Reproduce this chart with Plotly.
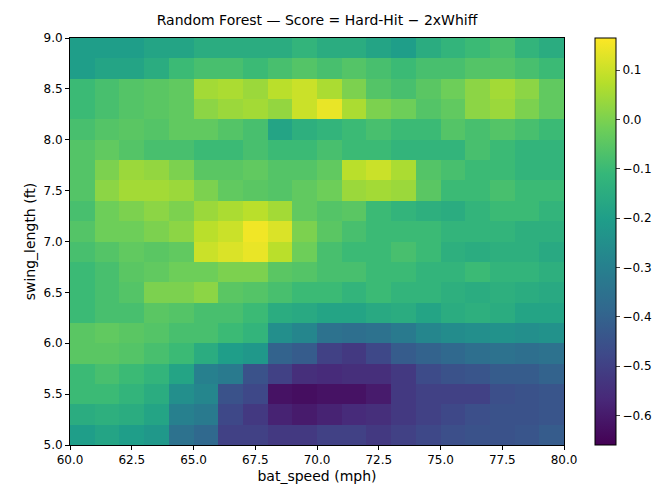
import plotly.graph_objects as go

bat_speed = [60.5 + i for i in range(20)]
swing_length = [5.1 + 0.2 * j for j in range(20)]

# rows from y=5.1 (bottom) to y=8.9 (top), 20 columns from x=60.5 to 79.5
score = [
 [-0.20,-0.18,-0.20,-0.22,-0.35,-0.38,-0.50,-0.50,-0.52,-0.52,-0.50,-0.50,-0.52,-0.50,-0.48,-0.46,-0.45,-0.45,-0.44,-0.42],
 [-0.15,-0.14,-0.15,-0.18,-0.30,-0.32,-0.48,-0.52,-0.58,-0.60,-0.58,-0.56,-0.55,-0.52,-0.50,-0.48,-0.46,-0.45,-0.45,-0.44],
 [-0.10,-0.10,-0.12,-0.15,-0.25,-0.28,-0.45,-0.48,-0.62,-0.63,-0.62,-0.62,-0.60,-0.52,-0.50,-0.50,-0.50,-0.46,-0.45,-0.44],
 [-0.10,-0.08,-0.10,-0.12,-0.18,-0.30,-0.32,-0.45,-0.50,-0.55,-0.56,-0.55,-0.55,-0.52,-0.47,-0.45,-0.44,-0.42,-0.42,-0.40],
 [-0.05,-0.05,-0.06,-0.08,-0.10,-0.15,-0.20,-0.22,-0.40,-0.42,-0.50,-0.52,-0.48,-0.42,-0.40,-0.38,-0.36,-0.35,-0.36,-0.35],
 [-0.05,-0.04,-0.05,-0.06,-0.08,-0.08,-0.10,-0.12,-0.25,-0.28,-0.35,-0.36,-0.35,-0.32,-0.28,-0.26,-0.25,-0.24,-0.25,-0.24],
 [-0.10,-0.08,-0.08,-0.05,-0.06,-0.08,-0.08,-0.10,-0.15,-0.16,-0.18,-0.18,-0.16,-0.15,-0.18,-0.15,-0.14,-0.15,-0.18,-0.18],
 [-0.10,-0.08,-0.06,0.00,0.00,0.02,-0.05,-0.06,-0.08,-0.10,-0.10,-0.12,-0.10,-0.12,-0.12,-0.14,-0.15,-0.14,-0.15,-0.16],
 [-0.10,-0.08,-0.05,-0.04,-0.02,-0.02,0.00,0.00,-0.05,-0.06,-0.08,-0.08,-0.10,-0.10,-0.12,-0.12,-0.10,-0.12,-0.12,-0.14],
 [-0.08,-0.06,-0.04,-0.05,-0.04,0.10,0.12,0.14,0.08,-0.02,-0.08,-0.10,-0.10,-0.08,-0.10,-0.14,-0.15,-0.14,-0.14,-0.16],
 [-0.06,-0.02,-0.02,0.00,0.02,0.08,0.10,0.15,0.12,0.00,-0.05,-0.08,-0.10,-0.10,-0.10,-0.12,-0.12,-0.12,-0.14,-0.14],
 [-0.08,-0.02,0.00,0.02,0.00,0.04,0.06,0.08,0.05,-0.04,-0.06,-0.05,-0.10,-0.12,-0.14,-0.15,-0.12,-0.10,-0.10,-0.12],
 [-0.06,0.02,0.05,0.05,0.04,0.00,-0.04,-0.05,-0.06,-0.04,-0.02,0.04,0.05,0.04,-0.05,-0.10,-0.10,-0.08,-0.10,-0.10],
 [-0.06,0.00,0.04,0.03,0.00,-0.05,-0.05,-0.04,-0.06,-0.06,-0.04,0.08,0.10,0.06,-0.06,-0.08,-0.10,-0.10,-0.12,-0.12],
 [-0.06,-0.04,-0.06,-0.08,-0.08,-0.10,-0.10,-0.08,-0.10,-0.10,-0.08,-0.10,-0.10,-0.12,-0.12,-0.12,-0.08,-0.10,-0.12,-0.12],
 [-0.08,-0.06,-0.05,-0.06,-0.04,-0.04,-0.06,-0.08,-0.18,-0.14,-0.12,-0.10,-0.08,-0.10,-0.10,-0.06,-0.08,-0.06,-0.08,-0.10],
 [-0.10,-0.08,-0.06,-0.05,-0.04,0.02,0.04,0.05,0.03,0.10,0.14,0.06,0.00,-0.02,-0.06,-0.04,0.02,0.04,0.00,-0.04],
 [-0.10,-0.08,-0.06,-0.05,-0.04,0.05,0.06,0.04,0.08,0.10,0.06,0.00,-0.06,-0.08,-0.05,-0.02,0.02,0.05,0.02,-0.04],
 [-0.20,-0.18,-0.18,-0.15,-0.10,-0.08,-0.08,-0.10,-0.08,-0.06,-0.08,-0.06,-0.08,-0.10,-0.08,-0.08,-0.06,-0.06,-0.08,-0.10],
 [-0.20,-0.20,-0.20,-0.18,-0.18,-0.15,-0.15,-0.15,-0.15,-0.12,-0.15,-0.15,-0.18,-0.20,-0.15,-0.12,-0.10,-0.08,-0.12,-0.15],
]

fig = go.Figure(go.Heatmap(
    x=bat_speed, y=swing_length, z=score, colorscale="Viridis",
    zmin=-0.66, zmax=0.165,
    colorbar=dict(x=1.063, xanchor="left", thickness=21, len=1, y=0.5, yanchor="middle",
                  outlinewidth=1, outlinecolor="black", ticks="outside", xpad=0, ypad=0,
                  tickfont=dict(size=12), ticklen=4,
                  tickvals=[0.1, 0.0, -0.1, -0.2, -0.3, -0.4, -0.5, -0.6],
                  ticktext=["0.1", "0.0", "−0.1", "−0.2", "−0.3", "−0.4", "−0.5", "−0.6"]),
))
ax = dict(showgrid=False, zeroline=False, ticks="outside", showline=True, linecolor="black",
          mirror=True, tickcolor="black", ticklen=4, tickfont=dict(size=12))
fig.update_layout(
    width=661, height=490, margin=dict(l=62, r=105, t=30, b=53, autoexpand=False),
    plot_bgcolor="white", paper_bgcolor="white",
    font=dict(family="DejaVu Sans", size=12, color="black"),
    title=dict(text="Random Forest — Score = Hard-Hit − 2xWhiff", x=0.5, xref="paper",
               y=1, yref="container", yanchor="top", pad=dict(t=7), font=dict(size=14)),
    xaxis=dict(range=[60, 80], tickvals=[60, 62.5, 65, 67.5, 70, 72.5, 75, 77.5, 80],
               ticktext=["60.0", "62.5", "65.0", "67.5", "70.0", "72.5", "75.0", "77.5", "80.0"],
               title=dict(text="bat_speed (mph)", standoff=4), **ax),
    yaxis=dict(range=[5, 9], tickvals=[5, 5.5, 6, 6.5, 7, 7.5, 8, 8.5, 9],
               ticktext=["5.0", "5.5", "6.0", "6.5", "7.0", "7.5", "8.0", "8.5", "9.0"],
               title=dict(text="swing_length (ft)", standoff=4), **ax),
)
fig.write_html("out.html")
